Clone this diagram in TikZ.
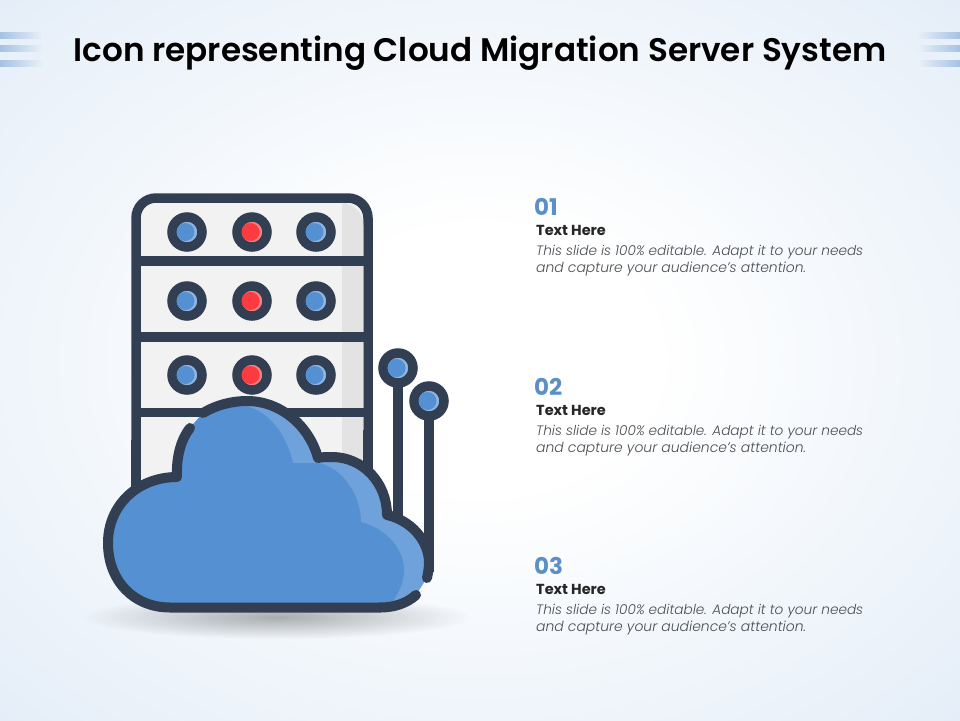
\documentclass[tikz,border=0pt]{standalone}
\usepackage{fontspec}
\setmainfont{Poppins}
\newfontfamily\titlefont{Poppins SemiBold}
\newfontfamily\bodyfont[ItalicFont={Poppins Light Italic}]{Poppins Light}
\usetikzlibrary{fadings}
\definecolor{ink}{HTML}{323F53}
\definecolor{cloudmain}{HTML}{5591D2}
\definecolor{cloudlight}{HTML}{6FA2DA}
\definecolor{knoblight}{HTML}{8DB5E2}
\definecolor{numblue}{HTML}{5B90C6}
\definecolor{bodygray}{HTML}{4A4D52}
\definecolor{panel}{HTML}{F2F2F2}
\definecolor{panelshade}{HTML}{E3E3E3}
\definecolor{ledred}{HTML}{FB3B3F}
\definecolor{ledlight}{HTML}{FC7F80}
\definecolor{barblue}{HTML}{A6C2E3}
\definecolor{bgedge}{HTML}{E5EEF8}
\definecolor{bgcorner}{HTML}{D8E5F4}
\pgfdeclareradialshading{slidebg}{\pgfpoint{0bp}{0bp}}{color(0bp)=(white); color(9bp)=(white); color(35bp)=(bgedge); color(50bp)=(bgcorner); color(100bp)=(bgcorner)}
\tikzfading[name=softshadow, inner color=transparent!70, outer color=transparent!100]
\tikzset{
  line/.style={draw=ink,line width=10pt,line cap=round,line join=round},
  flat/.style={draw=ink,line width=9.5pt},
  knob/.style={circle,draw=ink,line width=9.5pt,minimum size=30pt,inner sep=0pt},
  blueknob/.style={knob,fill=knoblight},
  redknob/.style={knob,fill=ledlight},
  numlabel/.style={anchor=west,inner sep=0pt,text=numblue,font=\fontsize{23}{23}\selectfont\bfseries},
  headlabel/.style={anchor=west,inner sep=0pt,text=black!85,font=\fontsize{14.5}{14.5}\selectfont\bfseries},
  bodylabel/.style={anchor=west,inner sep=0pt,text=bodygray,font=\fontsize{13}{13}\selectfont\bodyfont\itshape},
  cornerbar/.style={fill=barblue}
}
\newcommand{\bodyA}{\resizebox{327pt}{!}{This slide is 100\% editable. Adapt it to your needs}}
\newcommand{\bodyB}{\resizebox{270pt}{!}{and capture your audience’s attention.}}
\begin{document}
\begin{tikzpicture}[x=1pt,y=-1pt]
\useasboundingbox (0,0) rectangle (960,720);
\shade[shading=slidebg] (0,0) rectangle (960,720);
% corner bars
\foreach \yy in {35,48,63}{
  \fill[cornerbar,path fading=east] (0,\yy-3.5) rectangle (42,\yy+3.5);
  \fill[cornerbar,path fading=west] (918,\yy-3.5) rectangle (960,\yy+3.5);
}
\node[inner sep=0pt] (title) at (480,53) {\resizebox{813pt}{!}{\titlefont Icon representing Cloud Migration Server System}};
% shadow
\fill[black,path fading=softshadow] (277,617) ellipse [x radius=195,y radius=22];
% server
\draw[fill=panel,flat,rounded corners=20pt] (136,490) -- (136,198) -- (368,198) -- (368,490);
\fill[panelshade] (342,202.75) .. controls (353,204) and (363.25,212) .. (363.25,225) -- (363.25,480) -- (342,480) -- cycle;
\draw[flat] (136,261) -- (368,261);
\draw[flat] (136,337) -- (368,337);
\draw[flat] (136,412.5) -- (368,412.5);
\draw[flat] (136,440) -- (136,490);
\draw[flat] (368,430) -- (368,490);
% pins stems, then knobs
\coordinate (stemA) at (398,520);
\coordinate (stemB) at (429,572);
\coordinate (pinAc) at (398,368);
\coordinate (pinBc) at (429,401);
\draw[flat] (pinAc) -- (stemA);
\draw[flat] (pinBc) -- (stemB);
\node[blueknob] (pinA) at (pinAc) {};
\node[blueknob] (pinB) at (pinBc) {};
\fill[cloudmain] (396.5,368) circle [radius=9];
\fill[cloudmain] (427.5,401) circle [radius=9];
\foreach \yy/\rr in {232/a,301/b,375/c}{
  \node[blueknob] (k1\rr) at (187,\yy) {};
  \node[redknob] (k2\rr) at (252,\yy) {};
  \node[blueknob] (k3\rr) at (316,\yy) {};
  \fill[cloudmain] (185.5,\yy) circle [radius=9];
  \fill[ledred] (250.5,\yy) circle [radius=9];
  \fill[cloudmain] (314.5,\yy) circle [radius=9];
}
% cloud
\fill[cloudlight] (170,607.5) .. controls (133,607.5) and (108,580) .. (108,543)
  .. controls (108,505) and (138,477) .. (177,477)
  .. controls (176,455) and (182,438) .. (190,428)
  -- (203,413) .. controls (216,405) and (232,401) .. (247,401)
  .. controls (280,401) and (309,425) .. (318,458)
  .. controls (322,457) and (327,457) .. (332,457)
  .. controls (363,457) and (387,483) .. (387,515)
  .. controls (410,520) and (429,540) .. (429,563)
  .. controls (429,568) and (428,573) .. (427,578)
  -- (416,595) .. controls (407,603) and (395,607.5) .. (380,607.5) -- cycle;
\fill[cloudmain] (170,607.5) .. controls (133,607.5) and (108,580) .. (108,543)
  .. controls (108,505) and (138,477) .. (177,477)
  .. controls (176,455) and (182,438) .. (190,428)
  -- (203,413) .. controls (216,405) and (232,405) .. (240,405)
  .. controls (268,408) and (287,435) .. (293,463)
  -- (318,463) .. controls (342,467) and (361,495) .. (361,522)
  .. controls (385,528) and (404,548) .. (404,570)
  .. controls (404,583) and (398,595) .. (390,605) -- (380,607.5) -- cycle;
\draw[line] (380,607.5) -- (170,607.5) .. controls (133,607.5) and (108,580) .. (108,543)
  .. controls (108,505) and (138,477) .. (177,477)
  .. controls (176,455) and (182,438) .. (190,428);
\draw[line] (203,413) .. controls (216,405) and (232,401) .. (247,401)
  .. controls (280,401) and (309,425) .. (318,458)
  .. controls (322,457) and (327,457) .. (332,457)
  .. controls (363,457) and (387,483) .. (387,515)
  .. controls (410,520) and (429,540) .. (429,563)
  .. controls (429,568) and (428,573) .. (427,578);
\draw[line] (416,595) .. controls (407,603) and (395,607.5) .. (380,607.5);
% text
\foreach \nn/\ty in {01/207,02/387,03/566}{
  \node[numlabel] (n\nn) at (534,\ty) {\nn};
  \node[headlabel] (h\nn) at (536,\ty+23) {Text Here};
  \node[bodylabel] (a\nn) at (536,\ty+45) {\bodyA};
  \node[bodylabel] (b\nn) at (536,\ty+62) {\bodyB};
}
\end{tikzpicture}
\end{document}
